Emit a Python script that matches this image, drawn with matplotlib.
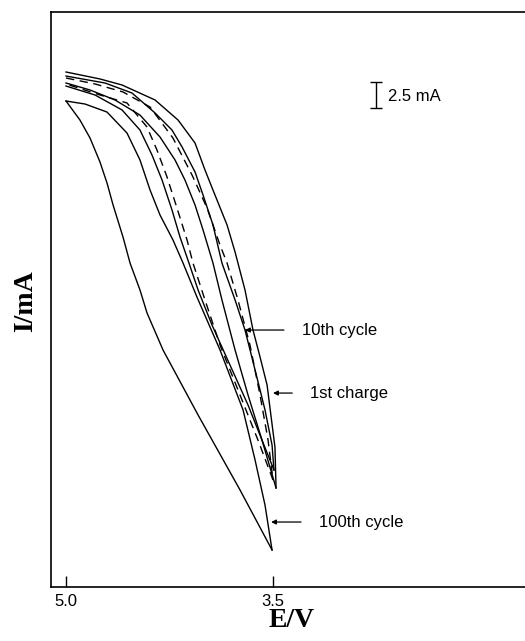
import numpy as np
import matplotlib.pyplot as plt

# potential (V) and current (mA) read along each sweep, 5.0 V end first
e_first_out = [5.000, 4.754, 4.594, 4.355, 4.188, 4.065, 3.993, 3.935, 3.833, 3.775, 3.703, 3.645, 3.594, 3.543, 3.486, 3.478]
i_first_out = [49.52, 48.85, 48.27, 46.83, 44.90, 42.69, 40.10, 38.17, 34.81, 32.21, 28.56, 24.71, 22.12, 19.42, 13.46, 9.52]
e_first_in = [3.478, 3.580, 3.681, 3.775, 3.870, 3.935, 4.007, 4.065, 4.138, 4.210, 4.319, 4.464, 4.645, 4.826, 5.000]
i_first_in = [9.52, 14.13, 18.46, 22.79, 27.60, 31.15, 34.33, 36.73, 39.13, 41.06, 43.27, 45.38, 46.83, 47.79, 48.46]

e_10_out = [5.000, 4.717, 4.522, 4.355, 4.232, 4.159, 4.065, 4.007, 3.935, 3.870, 3.775, 3.703, 3.630, 3.558, 3.507, 3.493]
i_10_out = [49.13, 48.46, 47.50, 45.58, 43.94, 42.31, 39.90, 37.69, 34.81, 31.15, 27.60, 24.71, 20.87, 17.02, 13.65, 11.25]
e_10_in = [3.493, 3.580, 3.681, 3.812, 3.942, 4.043, 4.109, 4.174, 4.232, 4.304, 4.377, 4.464, 4.594, 4.790, 5.000]
i_10_in = [11.25, 14.13, 17.50, 21.35, 25.19, 28.56, 31.15, 33.65, 36.25, 39.13, 41.54, 43.94, 45.87, 47.31, 48.17]

e_dash_out = [5.000, 4.790, 4.587, 4.391, 4.225, 4.087, 3.978, 3.884, 3.833, 3.754, 3.667, 3.594, 3.536, 3.500]
i_dash_out = [48.94, 48.37, 47.60, 46.15, 43.17, 39.62, 36.44, 32.88, 31.15, 27.60, 23.27, 18.46, 14.13, 10.29]
e_dash_in = [3.500, 3.609, 3.739, 3.884, 3.993, 4.080, 4.123, 4.196, 4.268, 4.341, 4.413, 4.558, 4.754, 5.000]
i_dash_in = [10.29, 14.13, 18.46, 23.27, 27.60, 31.15, 33.37, 36.44, 39.42, 42.02, 44.23, 46.54, 47.31, 48.37]

e_100_in = [5.000, 4.899, 4.826, 4.754, 4.703, 4.659, 4.587, 4.536, 4.464, 4.413, 4.297, 4.043, 3.739, 3.507]
i_100_in = [46.73, 44.90, 43.17, 40.87, 38.85, 36.73, 33.65, 31.15, 28.56, 26.35, 22.79, 16.54, 9.33, 3.56]
e_100_out = [5.000, 4.862, 4.703, 4.558, 4.464, 4.391, 4.319, 4.225, 4.152, 4.051, 3.884, 3.717, 3.630, 3.558, 3.507]
i_100_out = [46.73, 46.44, 45.67, 43.65, 41.06, 38.17, 35.77, 33.37, 31.15, 27.88, 22.79, 17.02, 12.21, 7.88, 3.56]

# labelled points: text, (E, I) on the curve, (E, I) of the text
labels = ["10th cycle", "1st charge", "100th cycle"]
label_tip = [(3.703, 24.71), (3.500, 18.65), (3.514, 6.25)]
label_txt = [(3.290, 24.71), (3.230, 18.65), (3.166, 6.25)]

xticks = [5.0, 3.5]
xticklabels = ["5.0", "3.5"]

sans = ["Liberation Sans", "DejaVu Sans"]
serif = ["Liberation Serif", "DejaVu Serif"]

fig = plt.figure(figsize=(5.25, 6.41), dpi=100)
ax = fig.add_axes([0.0971, 0.0842, 0.9029, 0.8971])

lk = dict(color="black", lw=1.0)
ax.plot(e_first_out, i_first_out, **lk)
ax.plot(e_first_in, i_first_in, **lk)
ax.plot(e_10_out, i_10_out, **lk)
ax.plot(e_10_in, i_10_in, **lk)
ax.plot(e_dash_out, i_dash_out, ls=(0, (6, 4)), **lk)
ax.plot(e_dash_in, i_dash_in, ls=(0, (6, 4)), **lk)
ax.plot(e_100_in, i_100_in, **lk)
ax.plot(e_100_out, i_100_out, **lk)

for txt, tip, pos in zip(labels, label_tip, label_txt):
    ax.annotate(txt, xy=tip, xytext=pos, ha="left", va="center",
                fontsize=12, family=sans,
                arrowprops=dict(arrowstyle="-|>", color="black", lw=0.9,
                                mutation_scale=7, shrinkA=11, shrinkB=0,
                                relpos=(0, 0.5)))

# 2.5 mA scale bar
ax.errorbar([2.754], [47.35], yerr=1.25, color="black", lw=1.0, capsize=4, capthick=1.0)
ax.text(2.667, 47.2, "2.5 mA", ha="left", va="center", fontsize=12, family=sans)

ax.set_xlim(5.109, 1.674)
ax.set_ylim(0, 55.29)
ax.set_xticks(xticks)
ax.set_xticklabels(xticklabels, family=sans, fontsize=12)
ax.set_yticks([])
ax.tick_params(axis="x", direction="in", length=8, width=1.0, pad=5)
ax.spines["right"].set_visible(False)
for s in ["left", "top", "bottom"]:
    ax.spines[s].set_linewidth(1.2)

fig.text(0.556, 0.032, "E/V", ha="center", va="center", fontsize=20,
         fontweight="bold", family=serif)
fig.text(0.048, 0.53, "I/mA", ha="center", va="center", fontsize=20,
         fontweight="bold", family=serif, rotation=90)

fig.savefig("out.png", dpi=100)
